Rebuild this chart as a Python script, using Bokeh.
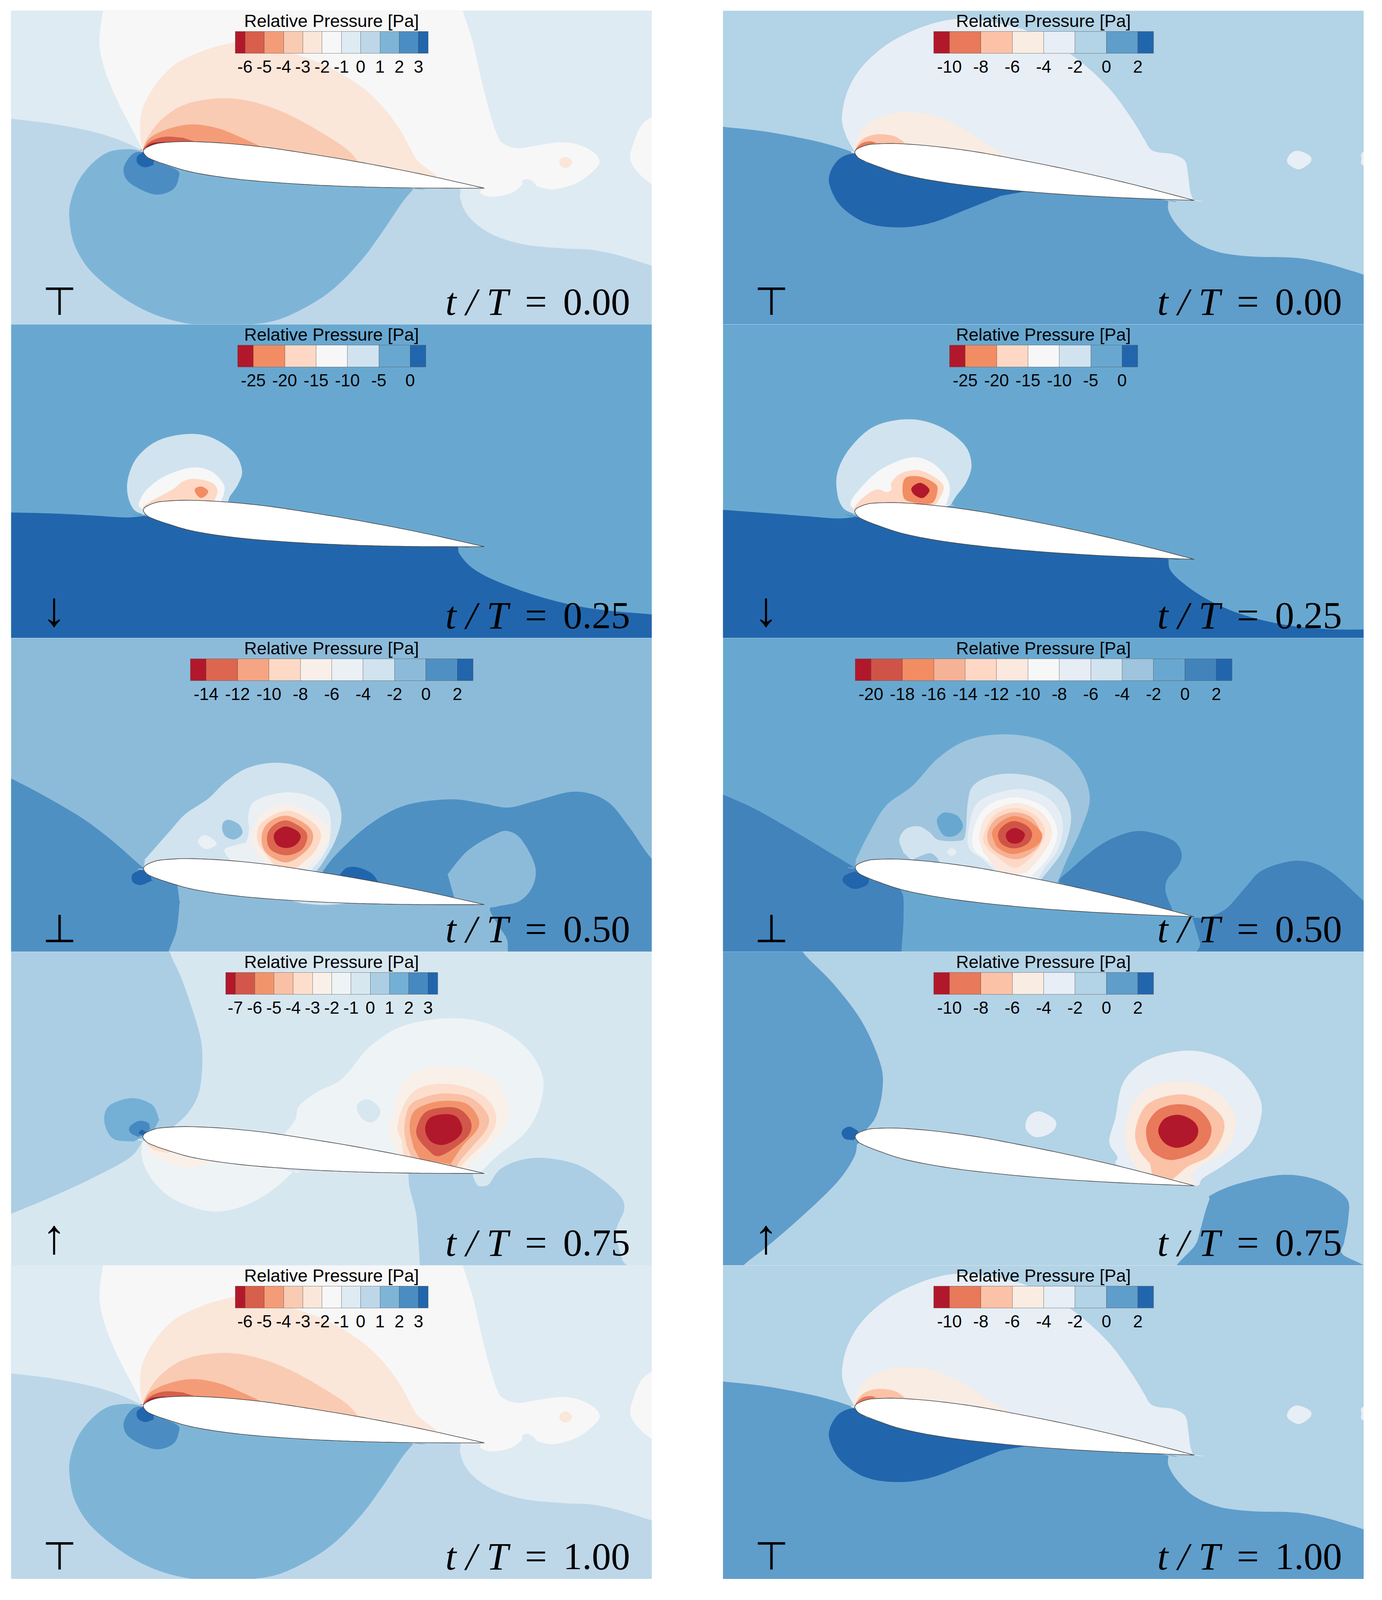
#!/usr/bin/env python3

import math
from bokeh.core.properties import value
from bokeh.embed import file_html
from bokeh.layouts import column, row
from bokeh.models import AllLabels, ColorBar, FixedTicker, LinearColorMapper, Range1d, Spacer
from bokeh.plotting import figure
from bokeh.resources import INLINE

PANEL_W = 1641
# the browser photo stops near 4096 px, so the five rows are fitted into that height
PANEL_H = 803
REF_H = 975
SQUASH = PANEL_H / REF_H

# airfoil outline, read from the t/T = 0 left panel
AIRFOIL_UPPER = [(323, 705), (326, 692), (335, 680), (350, 668), (370, 660), (430, 654), (520, 662),
                 (620, 682), (720, 712), (850, 756), (1000, 815), (1158, 887)]
AIRFOIL_LOWER = [(1158, 887), (1000, 886), (850, 880), (700, 866), (560, 843), (450, 810), (380, 770),
                 (340, 740), (328, 722), (323, 705)]

# colour levels of each case
LEVELS_STEADY_L = [-6, -5, -4, -3, -2, -1, 0, 1, 2, 3]
COLORS_STEADY_L = ["#b2182b", "#d75f4c", "#f49c78", "#f9cbb3", "#fbe6da", "#f7f7f7",
                   "#deebf3", "#bdd7e9", "#7eb5d7", "#4b8dc2", "#2166ac"]
LEVELS_STEADY_R = [-10, -8, -6, -4, -2, 0, 2]
COLORS_STEADY_R = ["#b2182b", "#e8795a", "#fbc2a8", "#f8ece3", "#e7eef5", "#b3d3e6", "#5f9dcb", "#2166ac"]
LEVELS_DOWN = [-25, -20, -15, -10, -5, 0]
COLORS_DOWN = ["#b2182b", "#f28c63", "#fed8c4", "#f7f7f7", "#d1e3ef", "#68a8d0", "#2166ac"]
LEVELS_MID_L = [-14, -12, -10, -8, -6, -4, -2, 0, 2]
COLORS_MID_L = ["#b2182b", "#dc6650", "#f5a583", "#fed9c5", "#f8efe9", "#ebf0f5", "#d0e3ef",
                "#8cbbda", "#4f90c3", "#2166ac"]
LEVELS_MID_R = [-20, -18, -16, -14, -12, -10, -8, -6, -4, -2, 0, 2]
COLORS_MID_R = ["#b2182b", "#d05348", "#f28c63", "#f6b296", "#fed8c4", "#fbe8de", "#f7f7f7",
                "#e6edf4", "#d1e3ef", "#9ec4de", "#68a8d0", "#4283bc", "#2166ac"]
LEVELS_UP_L = [-7, -6, -5, -4, -3, -2, -1, 0, 1, 2, 3]
COLORS_UP_L = ["#b2182b", "#d2574a", "#f2946b", "#f9c0a5", "#fddecc", "#f9f0ea", "#eef3f6",
               "#d7e7f0", "#abcee4", "#74afd5", "#4589c0", "#2166ac"]

# filled contour outlines: (colour index, outline points), painted in this order
CONTOURS_T0_L = [
    (6, [(-80, -80), (1650, -80), (1650, 1325), (1568, 1275), (1490, 1225), (1420, 1195), (1350, 1188), (1260, 1170),
         (1190, 1130), (1140, 1070), (1110, 1000), (1098, 930), (1100, 880), (900, 820), (600, 750), (400, 720),
         (322, 700), (270, 650), (200, 605), (100, 565), (0, 540), (-80, 525)]),
    (5, [(235, -80), (225, 0), (216, 160), (230, 300), (260, 450), (295, 590), (322, 695), (400, 720), (800, 800),
         (1100, 870), (1150, 890), (1150, 915), (1180, 930), (1225, 910), (1250, 870), (1250, 850), (1265, 842),
         (1280, 860), (1290, 880), (1330, 893), (1385, 860), (1425, 800), (1440, 750), (1420, 700), (1380, 665),
         (1340, 658), (1290, 672), (1240, 687), (1205, 665), (1190, 625), (1170, 500), (1150, 340), (1130, 160),
         (1105, 0), (1095, -80)]),
    (5, [(1568, 530), (1540, 580), (1520, 680), (1515, 740), (1530, 800), (1568, 868), (1640, 950), (1640, 450)]),
    (4, [(1357, 730), (1372, 750), (1368, 775), (1355, 786), (1343, 770), (1343, 745)]),
    (4, [(322, 695), (316, 620), (320, 500), (350, 380), (400, 270), (470, 200), (530, 165), (570, 155), (650, 190),
         (760, 265), (850, 370), (905, 470), (950, 590), (985, 720), (1000, 760), (1045, 830), (900, 820), (600, 750),
         (400, 720)]),
    (3, [(322, 695), (335, 630), (370, 540), (430, 465), (520, 437), (600, 460), (680, 520), (760, 610), (820, 690),
         (850, 755), (600, 750), (400, 720)]),
    (2, [(322, 695), (340, 635), (385, 590), (445, 568), (510, 590), (570, 640), (612, 680), (500, 700), (400, 720)]),
    (1, [(322, 695), (340, 655), (375, 630), (420, 635), (452, 655), (400, 690)]),
    (0, [(330, 680), (345, 662), (375, 655), (378, 660), (380, 690)]),
    (8, [(322, 705), (290, 692), (240, 705), (200, 760), (165, 850), (145, 960), (143, 1050), (155, 1170), (190, 1290),
         (250, 1400), (320, 1490), (400, 1550), (500, 1580), (590, 1568), (660, 1540), (740, 1460), (800, 1370),
         (860, 1240), (900, 1130), (930, 1040), (960, 950), (985, 890), (600, 800), (400, 720)]),
    (9, [(320, 708), (295, 720), (275, 790), (290, 860), (350, 918), (395, 895), (410, 835), (405, 795), (350, 750)]),
    (10, [(322, 708), (308, 730), (310, 765), (328, 783), (348, 770), (350, 730)]),
]

CONTOURS_T0_R = [
    (6, [(-80, 560), (0, 580), (100, 603), (200, 640), (270, 675), (322, 710), (800, 850), (1090, 950), (1090, 1000),
         (1110, 1070), (1150, 1150), (1210, 1205), (1290, 1228), (1400, 1235), (1470, 1260), (1530, 1295), (1568, 1320),
         (1650, 1385), (1650, 1650), (-80, 1650)]),
    (4, [(322, 705), (300, 620), (291, 530), (305, 400), (340, 280), (400, 170), (470, 95), (540, 50), (600, 42),
         (680, 65), (750, 105), (830, 190), (890, 280), (950, 400), (1000, 540), (1030, 640), (1045, 690), (1065, 708),
         (1100, 717), (1130, 750), (1138, 820), (1143, 900), (1150, 945), (800, 850), (450, 720)]),
    (4, [(1408, 700), (1436, 725), (1438, 755), (1420, 785), (1405, 792), (1385, 770), (1380, 745), (1390, 712)]),
    (4, [(1568, 705), (1562, 740), (1568, 775), (1630, 790), (1630, 690)]),
    (3, [(322, 705), (325, 650), (355, 565), (400, 522), (450, 507), (510, 520), (570, 570), (640, 660), (698, 732),
         (450, 720)]),
    (2, [(322, 700), (335, 655), (355, 628), (385, 617), (420, 628), (445, 660), (400, 690)]),
    (1, [(325, 690), (340, 662), (360, 653), (375, 660), (350, 680), (330, 695)]),
    (7, [(322, 715), (285, 740), (262, 810), (262, 880), (290, 980), (350, 1060), (430, 1083), (510, 1060), (600, 990),
         (680, 925), (750, 900), (500, 800), (350, 760)]),
]

CONTOURS_T25_L = [
    (6, [(-80, 935), (0, 940), (100, 945), (200, 955), (280, 965), (325, 958), (700, 1050), (1094, 1112), (1098, 1150),
         (1130, 1220), (1190, 1285), (1300, 1365), (1420, 1420), (1568, 1450), (1650, 1465), (1650, 1650), (-80, 1650)]),
    (4, [(325, 950), (300, 925), (285, 850), (287, 760), (310, 660), (360, 580), (430, 548), (490, 565), (545, 640),
         (565, 730), (555, 800), (535, 860), (530, 890), (430, 950)]),
    (3, [(322, 925), (312, 900), (330, 830), (375, 760), (440, 716), (490, 735), (520, 800), (520, 850), (513, 885),
         (430, 950)]),
    (2, [(320, 915), (345, 880), (395, 825), (420, 785), (450, 772), (490, 790), (505, 830), (497, 882), (430, 950)]),
    (1, [(465, 810), (482, 832), (475, 858), (463, 867), (452, 845), (450, 822)]),
]

CONTOURS_T25_R = [
    (6, [(-80, 915), (0, 927), (100, 942), (200, 958), (280, 970), (325, 962), (700, 1100), (1090, 1172), (1095, 1230),
         (1130, 1300), (1190, 1380), (1270, 1450), (1370, 1500), (1470, 1522), (1568, 1525), (1650, 1518), (1650, 1650),
         (-80, 1650)]),
    (4, [(325, 950), (295, 920), (280, 850), (280, 740), (310, 620), (370, 510), (455, 474), (530, 510), (590, 600),
         (608, 700), (595, 790), (570, 860), (557, 905), (430, 960)]),
    (3, [(322, 925), (312, 890), (340, 810), (390, 720), (460, 665), (510, 690), (545, 760), (555, 830), (545, 905),
         (430, 960)]),
    (2, [(318, 925), (340, 870), (375, 825), (400, 838), (412, 825), (412, 790), (435, 745), (475, 728), (515, 760),
         (540, 810), (530, 870), (520, 900), (430, 960)]),
    (1, [(445, 770), (480, 760), (515, 790), (525, 825), (510, 895), (455, 885), (440, 850)]),
    (0, [(483, 792), (505, 825), (495, 860), (482, 867), (465, 845), (462, 815)]),
]

# the two mid-cycle panels were read on a crop of their own
CONTOURS_T50_L = [
    (8, [(-40, 640), (31, 715), (100, 790), (190, 900), (260, 1010), (326, 1130), (370, 1190), (402, 1210), (407, 1290),
         (400, 1420), (382, 1520), (375, 1590), (-40, 1590)]),
    (8, [(725, 1150), (760, 1060), (830, 930), (910, 840), (1010, 812), (1080, 830), (1140, 850), (1200, 820), (1290, 776),
         (1360, 820), (1410, 940), (1461, 1090), (1540, 1250), (1540, 1600), (1185, 1600), (1135, 1450), (1100, 1330),
         (1115, 1310), (1165, 1285), (1195, 1215), (1200, 1120), (1170, 1000), (1140, 960), (1110, 975), (1050, 1050),
         (1005, 1160), (1020, 1270), (900, 1240)]),
    (9, [(320, 1140), (302, 1160), (302, 1195), (320, 1210), (345, 1190), (340, 1150)]),
    (9, [(765, 1160), (780, 1130), (805, 1128), (835, 1155), (850, 1195), (780, 1200)]),
    (6, [(326, 1135), (330, 1090), (385, 960), (420, 880), (470, 810), (510, 730), (560, 665), (625, 642), (690, 670),
         (745, 750), (768, 880), (755, 1000), (725, 1110), (712, 1145), (500, 1150)]),
    (6, [(640, 1275), (680, 1295), (730, 1303), (780, 1295), (800, 1285), (700, 1260)]),
    (7, [(518, 907), (540, 930), (547, 970), (530, 998), (510, 985), (502, 950), (505, 918)]),
    (5, [(520, 1095), (507, 1045), (540, 1020), (555, 1010), (562, 950), (560, 890), (575, 820), (640, 780), (700, 800),
         (740, 870), (742, 1000), (725, 1080), (700, 1140), (600, 1150)]),
    (5, [(465, 978), (488, 1010), (485, 1030), (465, 1043), (450, 1020), (450, 995)]),
    (4, [(645, 835), (705, 880), (742, 960), (728, 1050), (700, 1110), (692, 1135), (640, 1150), (600, 1110), (575, 1050),
         (565, 990), (590, 880)]),
    (3, [(645, 865), (695, 905), (722, 970), (710, 1050), (680, 1110), (668, 1130), (630, 1150), (600, 1070), (580, 1000),
         (590, 920)]),
    (2, [(645, 888), (690, 930), (705, 985), (690, 1050), (645, 1105), (600, 1060), (590, 985), (605, 920)]),
    (1, [(645, 910), (680, 945), (692, 985), (680, 1045), (645, 1072), (610, 1045), (602, 985), (615, 935)]),
    (0, [(645, 938), (670, 960), (677, 990), (665, 1025), (645, 1038), (625, 1025), (617, 985), (625, 955)]),
]

CONTOURS_T50_R = [
    (11, [(-30, 720), (53, 790), (130, 860), (230, 975), (300, 1060), (358, 1130), (400, 1190), (462, 1230), (470, 1350),
          (465, 1520), (465, 1600), (-30, 1600)]),
    (11, [(830, 1200), (860, 1130), (920, 1030), (975, 975), (1025, 960), (1090, 1000), (1112, 1060), (1105, 1120),
          (1080, 1180), (1075, 1240), (1090, 1320), (1095, 1345), (1000, 1300), (900, 1230)]),
    (11, [(1140, 1362), (1170, 1360), (1215, 1320), (1260, 1220), (1300, 1140), (1380, 1097), (1450, 1140), (1533, 1285),
          (1620, 1450), (1620, 1600), (1175, 1600), (1155, 1480), (1140, 1380)]),
    (12, [(358, 1147), (335, 1165), (330, 1195), (355, 1228), (385, 1210), (390, 1180), (370, 1160)]),
    (9, [(358, 1130), (360, 1090), (390, 970), (430, 840), (490, 750), (550, 620), (620, 535), (710, 510), (800, 545),
         (870, 650), (900, 800), (880, 950), (850, 1080), (825, 1200), (600, 1160)]),
    (10, [(565, 873), (595, 890), (607, 940), (590, 980), (565, 982), (550, 940), (548, 900)]),
    (8, [(488, 1095), (470, 1060), (460, 1000), (475, 950), (505, 937), (530, 965), (550, 1000), (595, 1005), (612, 980),
         (618, 830), (630, 750), (670, 705), (725, 693), (790, 720), (840, 790), (857, 900), (840, 1040), (810, 1130),
         (785, 1190), (600, 1160)]),
    (9, [(490, 1092), (530, 1062), (548, 1085), (558, 1120), (520, 1140)]),
    (7, [(580, 1038), (592, 1055), (582, 1075), (570, 1060)]),
    (7, [(725, 765), (790, 790), (828, 860), (838, 950), (825, 1050), (795, 1130), (780, 1185), (700, 1180), (650, 1085),
         (620, 1035), (622, 930), (645, 820)]),
    (6, [(725, 803), (785, 835), (815, 900), (825, 980), (805, 1080), (765, 1170), (715, 1180), (660, 1090), (630, 1035),
         (635, 930), (665, 840)]),
    (5, [(725, 830), (775, 855), (805, 915), (812, 985), (790, 1070), (755, 1150), (700, 1180), (655, 1060), (645, 980),
         (665, 880)]),
    (4, [(725, 852), (770, 880), (795, 945), (790, 1010), (765, 1080), (728, 1130), (690, 1085), (660, 1030), (655, 975),
         (680, 885)]),
    (3, [(725, 872), (765, 895), (785, 960), (785, 1020), (755, 1075), (725, 1090), (690, 1065), (667, 1020), (665, 960),
         (685, 900)]),
    (2, [(725, 890), (762, 915), (790, 975), (775, 1030), (725, 1066), (690, 1040), (678, 1000), (675, 960), (695, 915)]),
    (1, [(725, 913), (755, 935), (767, 975), (755, 1020), (725, 1040), (697, 1020), (688, 975), (700, 935)]),
    (0, [(727, 945), (745, 960), (750, 980), (742, 1008), (727, 1018), (712, 1008), (706, 980), (712, 958)]),
]

CONTOURS_T75_L = [
    (8, [(388, -80), (388, 0), (420, 150), (460, 400), (468, 540), (460, 700), (435, 800), (400, 870), (400, 950),
         (322, 945), (290, 1030), (200, 1130), (100, 1225), (0, 1310), (-80, 1380), (-80, -80)]),
    (8, [(972, 1108), (975, 1180), (990, 1300), (995, 1400), (1000, 1568), (1000, 1650), (1505, 1650), (1495, 1540),
         (1480, 1400), (1500, 1290), (1490, 1220), (1440, 1130), (1380, 1060), (1300, 1030), (1240, 1045), (1195, 1090),
         (1170, 1160), (1155, 1172), (1140, 1165), (1130, 1110), (1150, 1108), (1060, 1085)]),
    (9, [(295, 732), (345, 765), (362, 840), (350, 890), (325, 925), (300, 948), (250, 935), (228, 850), (240, 770)]),
    (10, [(312, 846), (335, 855), (340, 885), (325, 915), (310, 925), (292, 905), (290, 875)]),
    (11, [(320, 888), (332, 905), (322, 918), (312, 905)]),
    (6, [(668, 912), (695, 840), (705, 770), (750, 700), (800, 650), (830, 590), (880, 470), (960, 370), (1080, 332),
         (1180, 370), (1260, 480), (1300, 620), (1295, 760), (1260, 900), (1190, 1020), (1150, 1100), (900, 1020)]),
    (7, [(872, 737), (897, 770), (903, 810), (885, 852), (862, 840), (848, 800), (848, 760)]),
    (6, [(322, 945), (320, 1030), (345, 1140), (400, 1240), (490, 1298), (570, 1270), (640, 1190), (690, 1100), (500, 1000)]),
    (5, [(1070, 573), (1150, 600), (1195, 670), (1215, 770), (1215, 850), (1190, 930), (1160, 990), (1130, 1050), (1115, 1085),
         (1000, 1050), (945, 1010), (935, 960), (925, 890), (935, 800), (945, 720), (960, 650), (1000, 590)]),
    (5, [(335, 970), (350, 1020), (400, 1065), (440, 1082), (510, 1050), (400, 980)]),
    (4, [(330, 960), (350, 990), (380, 1005), (395, 1000), (350, 960)]),
    (4, [(1065, 660), (1130, 690), (1175, 760), (1187, 850), (1165, 940), (1130, 1010), (1100, 1075), (1000, 1050),
         (960, 1020), (955, 940), (945, 870), (965, 750), (1000, 680)]),
    (3, [(1065, 708), (1125, 730), (1165, 810), (1165, 880), (1130, 970), (1100, 1040), (1090, 1075), (1040, 1060),
         (980, 1030), (968, 970), (962, 880), (975, 770), (1015, 725)]),
    (2, [(1065, 745), (1115, 760), (1143, 830), (1140, 890), (1105, 970), (1075, 1062), (1000, 1037), (985, 980),
         (975, 880), (985, 800), (1020, 760)]),
    (1, [(1065, 777), (1100, 790), (1125, 850), (1120, 915), (1085, 980), (1045, 1022), (1020, 990), (995, 930), (993, 875),
         (1015, 800)]),
    (0, [(1060, 812), (1090, 825), (1104, 885), (1090, 935), (1055, 966), (1025, 945), (1013, 885), (1025, 830)]),
]

CONTOURS_T75_R = [
    (6, [(195, -80), (195, 0), (270, 160), (340, 350), (385, 560), (390, 690), (375, 820), (350, 890), (370, 930), (328, 960),
         (320, 1030), (280, 1150), (200, 1310), (110, 1470), (50, 1568), (25, 1650), (-80, 1650), (-80, -80)]),
    (6, [(1195, 1215), (1260, 1160), (1370, 1115), (1460, 1145), (1525, 1230), (1530, 1330), (1520, 1450), (1515, 1510),
         (1568, 1568), (1625, 1650), (1130, 1650), (1160, 1450), (1180, 1300), (1190, 1240)]),
    (7, [(312, 875), (330, 895), (330, 925), (318, 942), (298, 935), (290, 905), (298, 882)]),
    (4, [(1135, 494), (1220, 530), (1280, 620), (1315, 740), (1315, 840), (1290, 960), (1230, 1060), (1175, 1130), (1153, 1170),
         (1050, 1110), (965, 1065), (965, 1025), (945, 950), (960, 830), (980, 650), (1040, 540)]),
    (4, [(778, 799), (812, 840), (812, 885), (790, 918), (762, 925), (742, 890), (742, 845), (755, 810)]),
    (3, [(1115, 647), (1190, 680), (1240, 770), (1255, 870), (1230, 990), (1170, 1070), (1145, 1120), (1150, 1165), (1050, 1110),
         (1015, 1090), (985, 970), (985, 870), (1000, 770), (1040, 680)]),
    (2, [(1115, 713), (1175, 745), (1222, 830), (1222, 920), (1190, 1020), (1140, 1070), (1110, 1120), (1100, 1138), (1050, 1115),
         (1045, 1060), (1015, 980), (1010, 880), (1040, 760)]),
    (1, [(1115, 762), (1165, 790), (1195, 880), (1175, 980), (1105, 1040), (1060, 1015), (1040, 960), (1037, 870), (1065, 790)]),
    (0, [(1115, 815), (1150, 845), (1163, 895), (1150, 950), (1112, 980), (1080, 955), (1065, 895), (1080, 835)]),
]


def smooth(points, closed=True, steps=8):
    # Catmull-Rom through the read points, so outlines don't look faceted
    n = len(points)
    xs, ys = [], []
    last = n if closed else n - 1
    for i in range(last):
        if closed:
            p0, p1, p2, p3 = (points[(i + k) % n] for k in (-1, 0, 1, 2))
        else:
            p0, p1, p2, p3 = points[max(i - 1, 0)], points[i], points[i + 1], points[min(i + 2, n - 1)]
        for j in range(steps):
            t = j / steps
            for out, a in ((xs, 0), (ys, 1)):
                out.append(0.5 * (2 * p1[a] + (p2[a] - p0[a]) * t
                                  + (2 * p0[a] - 5 * p1[a] + 4 * p2[a] - p3[a]) * t ** 2
                                  + (3 * p1[a] - p0[a] - 3 * p2[a] + p3[a]) * t ** 3))
    if not closed:
        xs.append(points[-1][0])
        ys.append(points[-1][1])
    return xs, ys


def inside(pt, xs, ys):
    hit = False
    for i in range(len(xs)):
        x0, y0, x1, y1 = xs[i - 1], ys[i - 1], xs[i], ys[i]
        if (y0 > pt[1]) != (y1 > pt[1]) and pt[0] < x0 + (pt[1] - y0) * (x1 - x0) / (y1 - y0):
            hit = not hit
    return hit


def with_corners(points, foil_x, foil_y):
    # where a contour runs under the airfoil it meets the surface at a corner: a doubled point keeps it sharp
    covered = [inside(pt, foil_x, foil_y) for pt in points]
    n = len(points)
    out = []
    for i, pt in enumerate(points):
        out.append(pt)
        if covered[i] or covered[i - 1] or covered[(i + 1) % n]:
            out.append(pt)
    return out


def place_airfoil(xs, ys, x_range, y_range, le, te):
    # the same section in every panel, moved and turned in reference pixels
    sx = PANEL_W / (x_range[1] - x_range[0])
    sy = REF_H / (y_range[1] - y_range[0])
    base_sx = PANEL_W / 1568
    base_sy = REF_H / 1568
    src_le, src_te = AIRFOIL_UPPER[0], AIRFOIL_UPPER[-1]
    ax, ay = (src_te[0] - src_le[0]) * base_sx, (src_te[1] - src_le[1]) * base_sy
    bx, by = (te[0] - le[0]) * sx, (te[1] - le[1]) * sy
    scale = math.hypot(bx, by) / math.hypot(ax, ay)
    turn = math.atan2(by, bx) - math.atan2(ay, ax)
    cos_t, sin_t = math.cos(turn) * scale, math.sin(turn) * scale
    out_x, out_y = [], []
    for x, y in zip(xs, ys):
        dx, dy = (x - src_le[0]) * base_sx, (y - src_le[1]) * base_sy
        out_x.append(le[0] + (dx * cos_t - dy * sin_t) / sx)
        out_y.append(le[1] + (dx * sin_t + dy * cos_t) / sy)
    return out_x, out_y


def make_panel(x_range, y_range, le, te, levels, colors, base, contours, cell_px, symbol, moment):
    p = figure(width=PANEL_W, height=PANEL_H, x_range=Range1d(*x_range), y_range=Range1d(y_range[1], y_range[0]),
               x_axis_type=None, y_axis_type=None, toolbar_location=None, output_backend="svg", min_border=0,
               outline_line_color=None, background_fill_color=colors[base])
    p.grid.visible = False

    upper = smooth(AIRFOIL_UPPER, closed=False)
    lower = smooth(AIRFOIL_LOWER, closed=False)
    foil_x, foil_y = place_airfoil(upper[0] + lower[0], upper[1] + lower[1], x_range, y_range, le, te)

    outlines = [smooth(with_corners(points, foil_x, foil_y)) for _, points in contours]
    p.patches([o[0] for o in outlines], [o[1] for o in outlines],
              fill_color=[colors[c] for c, _ in contours], line_color=None)
    p.patch(foil_x, foil_y, fill_color="white", line_color="#4a4a4a", line_width=1.6)

    # half cells at both ends of the bar, so the ticks sit on the colour edges
    palette = [colors[0]] + [c for c in colors[1:-1] for _ in (0, 1)] + [colors[-1]]
    step = levels[1] - levels[0]
    mapper = LinearColorMapper(palette=palette, low=levels[0] - step / 2, high=levels[-1] + step / 2)
    bar_h = int(69 * SQUASH)
    bar = ColorBar(color_mapper=mapper, ticker=FixedTicker(ticks=levels), location="top_center", orientation="horizontal",
                   width=int(round(cell_px * len(levels))), height=bar_h, padding=0, margin=int(65 * SQUASH),
                   major_label_text_font="Liberation Sans", major_label_text_font_size="44px",
                   major_label_text_color="black", major_label_policy=AllLabels(),
                   major_label_overrides={v: str(v) for v in levels}, label_standoff=18,
                   major_tick_in=bar_h, major_tick_out=0, major_tick_line_color="#333333", major_tick_line_alpha=0.6,
                   minor_tick_line_color=None, bar_line_color="#555555", bar_line_alpha=0.7,
                   background_fill_alpha=0, border_line_color=None)
    p.add_layout(bar)

    def put_text(px, from_bottom, text, font, size, align="left", style="normal"):
        # the svg text sits about a quarter em under the asked baseline
        x = x_range[0] + px / PANEL_W * (x_range[1] - x_range[0])
        y = y_range[1] - (from_bottom + 0.27 * size) / PANEL_H * (y_range[1] - y_range[0])
        p.text([x], [y], text=[text], text_align=align, text_baseline="alphabetic", text_color="black",
               text_font=value(font), text_font_size=f"{size}px", text_font_style=style)

    put_text(PANEL_W / 2, PANEL_H - 38, "Relative Pressure [Pa]", "Liberation Sans", 45, "center")
    if symbol in "↑↓":
        put_text(110, 41, symbol, "Liberation Sans", 125, "center")
    else:
        put_text(124, 39 * SQUASH, symbol, "DejaVu Sans", 100, "center")
    base_y = 38 * SQUASH
    put_text(1112, base_y, "t / T", "Liberation Serif", 100, style="italic")
    put_text(1344, base_y, "=", "Liberation Serif", 100, "center")
    put_text(1585, base_y, moment, "Liberation Serif", 98, "right")
    return p


CROP = (0, 1568)
rows = [
    [make_panel(CROP, CROP, (323, 705), (1158, 887), LEVELS_STEADY_L, COLORS_STEADY_L, 7, CONTOURS_T0_L, 49.4, "⊤", "0.00"),
     make_panel(CROP, CROP, (322, 708), (1153, 948), LEVELS_STEADY_R, COLORS_STEADY_R, 5, CONTOURS_T0_R, 80.4, "⊤", "0.00")],
    [make_panel(CROP, CROP, (323, 930), (1158, 1111), LEVELS_DOWN, COLORS_DOWN, 5, CONTOURS_T25_L, 80.4, "↓", "0.25"),
     make_panel(CROP, CROP, (322, 935), (1153, 1174), LEVELS_DOWN, COLORS_DOWN, 5, CONTOURS_T25_R, 80.4, "↓", "0.25")],
    [make_panel((31, 1461), (63, 1520), (326, 1135), (1087, 1301), LEVELS_MID_L, COLORS_MID_L, 7, CONTOURS_T50_L, 80.4, "⊥", "0.50"),
     make_panel((53, 1533), (63, 1520), (358, 1130), (1141, 1357), LEVELS_MID_R, COLORS_MID_R, 10, CONTOURS_T50_R, 80.4, "⊥", "0.50")],
    [make_panel(CROP, CROP, (322, 925), (1158, 1108), LEVELS_UP_L, COLORS_UP_L, 7, CONTOURS_T75_L, 49.4, "↑", "0.75"),
     make_panel(CROP, CROP, (323, 925), (1153, 1170), LEVELS_STEADY_R, COLORS_STEADY_R, 5, CONTOURS_T75_R, 80.4, "↑", "0.75")],
    [make_panel(CROP, CROP, (323, 705), (1158, 887), LEVELS_STEADY_L, COLORS_STEADY_L, 7, CONTOURS_T0_L, 49.4, "⊤", "1.00"),
     make_panel(CROP, CROP, (322, 708), (1153, 948), LEVELS_STEADY_R, COLORS_STEADY_R, 5, CONTOURS_T0_R, 80.4, "⊤", "1.00")],
]

page = column([Spacer(width=10, height=27)]
              + [row(Spacer(width=28, height=PANEL_H), left, Spacer(width=182, height=PANEL_H), right) for left, right in rows])

open("out.html", "w").write(file_html(page, INLINE))
